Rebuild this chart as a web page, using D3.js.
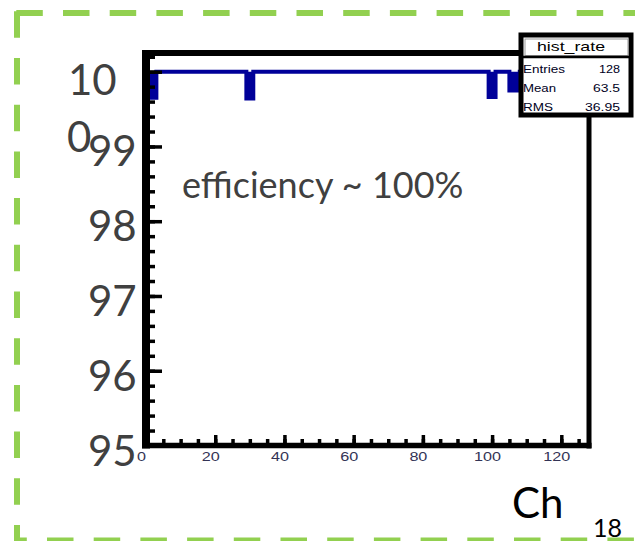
<!DOCTYPE html>
<html>
<head>
<meta charset="utf-8">
<script src="https://cdn.jsdelivr.net/npm/d3@7"></script>
<style>
  html, body { margin: 0; padding: 0; background: #fff; }
  svg { display: block; }
</style>
</head>
<body>
<svg id="chart" width="635" height="541"></svg>
<script>
// Per-channel rate (%), channels 0..127
const rate = [
  99.65, 99.65, 99.65, 100, 100, 100, 100, 100, 100, 100, 100, 100, 100, 100, 100, 100,
  100, 100, 100, 100, 100, 100, 100, 100, 100, 100, 100, 100, 100, 99.64, 99.64, 100,
  100, 100, 100, 100, 100, 100, 100, 100, 100, 100, 100, 100, 100, 100, 100, 100,
  100, 100, 100, 100, 100, 100, 100, 100, 100, 100, 100, 100, 100, 100, 100, 100,
  100, 100, 100, 100, 100, 100, 100, 100, 100, 100, 100, 100, 100, 100, 100, 100,
  100, 100, 100, 100, 100, 100, 100, 100, 100, 100, 100, 100, 100, 100, 100, 100,
  100, 100, 100, 99.66, 99.66, 100, 100, 100, 100, 99.75, 99.75, 99.75, 100, 100, 100, 100,
  100, 100, 100, 100, 100, 100, 100, 100, 100, 100, 100, 100, 100, 100, 100, 100
];

const xMajorTicks = [0, 20, 40, 60, 80, 100, 120];
const xTickLabels = ["0", "20", "40", "60", "80", "100", "120"];
const yMajorTicks = [95, 96, 97, 98, 99, 100];
const yTickLabels = ["95", "96", "97", "98", "99"];
const topLabelParts = ["10", "0"];

const statsTitle = "hist_rate";
const statsNames = ["Entries", "Mean", "RMS"];
const statsValues = ["128", "63.5", "36.95"];

const xTitle = "Ch";
const note = "efficiency ~ 100%";
const pageNumber = "18";

const svg = d3.select("#chart");
const W = 635, H = 541;

const x = d3.scaleLinear().domain([0, 128]).range([146, 589]);
const y = d3.scaleLinear().domain([95, 100.25]).range([445.5, 53]);

// ---- dashed green slide frame ----
const green = "#92d050";
const dash = "26.5 20.2";
const frame = svg.append("g").attr("fill", "none").attr("stroke", green).attr("stroke-width", 6)
  .attr("stroke-dasharray", dash);
frame.append("line").attr("x1", 14).attr("y1", 13).attr("x2", W + 20).attr("y2", 13)
  .attr("stroke-dashoffset", -2.3);
frame.append("line").attr("x1", 17).attr("y1", 10).attr("x2", 17).attr("y2", 543)
  .attr("stroke-dashoffset", -1.3);
frame.append("line").attr("x1", 14).attr("y1", 540.5).attr("x2", W + 20).attr("y2", 540.5)
  .attr("stroke-dashoffset", 13.7);

// ---- histogram: step outline, with the dips below the plateau filled solid ----
const steps = [];
rate.forEach((v, i) => { steps.push([i, v]); steps.push([i + 1, v]); });
const plateau = d3.max(rate);
const histColor = "#000099";
svg.append("path")
  .datum(steps)
  .attr("fill", histColor)
  .attr("stroke", "none")
  .attr("d", d3.area().x(d => x(d[0])).y0(y(plateau)).y1(d => y(d[1])));
svg.append("path")
  .datum(steps)
  .attr("fill", "none")
  .attr("stroke", histColor)
  .attr("stroke-width", 4)
  .attr("d", d3.line().x(d => x(d[0])).y(d => y(d[1])));

// ---- plot frame ----
const fr = svg.append("g").attr("stroke", "#000");
fr.append("line").attr("x1", x(0)).attr("x2", x(0)).attr("y1", y(100.25) - 3).attr("y2", y(95) + 3).attr("stroke-width", 8);
fr.append("line").attr("x1", x(0) - 4).attr("x2", 521).attr("y1", y(100.25)).attr("y2", y(100.25)).attr("stroke-width", 6);
fr.append("line").attr("x1", x(128)).attr("x2", x(128)).attr("y1", 115).attr("y2", y(95) + 3).attr("stroke-width", 5);
fr.append("line").attr("x1", x(0) - 4).attr("x2", x(128) + 2.5).attr("y1", y(95)).attr("y2", y(95)).attr("stroke-width", 5.5);

// ---- y ticks (inside, pointing right) ----
function styleTicks(g) {
  g.select(".domain").remove();
  g.selectAll(".tick line").attr("stroke", "#000").attr("stroke-width", 3.5);
  g.selectAll(".tick text").remove();
}
const yMinor = d3.range(95, 100.3, 0.2).map(v => +v.toFixed(1));
svg.append("g").attr("transform", `translate(${x(0)},0)`)
  .call(d3.axisRight(y).tickValues(yMinor).tickSize(9).tickFormat(""))
  .call(styleTicks);
svg.append("g").attr("transform", `translate(${x(0)},0)`)
  .call(d3.axisRight(y).tickValues(yMajorTicks).tickSize(16).tickFormat(""))
  .call(styleTicks);

// ---- x ticks (inside, pointing up) ----
const xMinor = d3.range(0, 128, 5);
svg.append("g").attr("transform", `translate(0,${y(95)})`)
  .call(d3.axisTop(x).tickValues(xMinor).tickSize(6.5).tickFormat(""))
  .call(styleTicks);
svg.append("g").attr("transform", `translate(0,${y(95)})`)
  .call(d3.axisTop(x).tickValues(xMajorTicks).tickSize(10.5).tickFormat(""))
  .call(styleTicks);

// ---- x tick labels ----
const xl = svg.append("g").attr("transform", `translate(0,${y(95)})`)
  .call(d3.axisBottom(x).tickValues(xMajorTicks).tickSize(0).tickFormat((d, i) => xTickLabels[i]));
xl.select(".domain").remove();
xl.selectAll(".tick text")
  .attr("y", 15).attr("dy", null).attr("dx", -5)
  .attr("fill", "#333355")
  .attr("font-family", "'Liberation Sans', Arial, sans-serif")
  .attr("font-size", 12.5)
  .attr("textLength", (d, i) => xTickLabels[i].length * 9)
  .attr("lengthAdjust", "spacingAndGlyphs");

// ---- large y tick labels ----
const labelFont = "Lato, 'Open Sans', sans-serif";
svg.append("g").selectAll("text").data(yTickLabels).join("text")
  .attr("x", 88)
  .attr("y", (d, i) => y(yMajorTicks[i]) + 20)
  .attr("font-family", labelFont).attr("font-size", 42).attr("fill", "#404040")
  .text(d => d);
const topLabel = svg.append("text")
  .attr("font-family", labelFont).attr("font-size", 42).attr("fill", "#404040");
topLabel.append("tspan").attr("x", 68).attr("y", y(100) + 23.3).text(topLabelParts[0]);
topLabel.append("tspan").attr("x", 67).attr("y", y(100) + 80.3).text(topLabelParts[1]);

// ---- annotation ----
svg.append("text").attr("x", 182).attr("y", 198)
  .attr("font-family", labelFont).attr("font-size", 36).attr("fill", "#404040")
  .text(note);

// ---- stats box ----
const sb = svg.append("g");
sb.append("rect").attr("x", 521).attr("y", 35).attr("width", 110).attr("height", 80)
  .attr("fill", "#fff").attr("stroke", "#000").attr("stroke-width", 5);
sb.append("rect").attr("x", 525).attr("y", 39).attr("width", 103).attr("height", 16.5)
  .attr("fill", "#fff").attr("stroke", "#999").attr("stroke-width", 1);
sb.append("line").attr("x1", 521).attr("x2", 631).attr("y1", 57).attr("y2", 57)
  .attr("stroke", "#000").attr("stroke-width", 2.5);
sb.append("text").attr("x", 537).attr("y", 50.5)
  .attr("font-family", "'Liberation Sans', Arial, sans-serif").attr("font-size", 13.5)
  .attr("fill", "#000").attr("textLength", 68).attr("lengthAdjust", "spacingAndGlyphs")
  .text(statsTitle);
const rowY = [72.5, 91.5, 110.5];
const nameW = [42, 33, 30];
const valW = [21, 27, 35];
sb.selectAll("text.name").data(statsNames).join("text").attr("class", "name")
  .attr("x", 523).attr("y", (d, i) => rowY[i])
  .attr("font-family", "'Liberation Sans', Arial, sans-serif").attr("font-size", 10)
  .attr("fill", "#000022").attr("textLength", (d, i) => nameW[i]).attr("lengthAdjust", "spacingAndGlyphs")
  .text(d => d);
sb.selectAll("text.val").data(statsValues).join("text").attr("class", "val")
  .attr("x", (d, i) => 620 - valW[i]).attr("y", (d, i) => rowY[i])
  .attr("font-family", "'Liberation Sans', Arial, sans-serif").attr("font-size", 10)
  .attr("fill", "#000022").attr("textLength", (d, i) => valW[i]).attr("lengthAdjust", "spacingAndGlyphs")
  .text(d => d);

// ---- axis title and slide number ----
svg.append("text").attr("x", 512).attr("y", 518)
  .attr("font-family", labelFont).attr("font-size", 42).attr("fill", "#000")
  .text(xTitle);
svg.append("text").attr("x", 593).attr("y", 536.5)
  .attr("font-family", labelFont).attr("font-size", 25).attr("fill", "#000")
  .text(pageNumber);
</script>
</body>
</html>
